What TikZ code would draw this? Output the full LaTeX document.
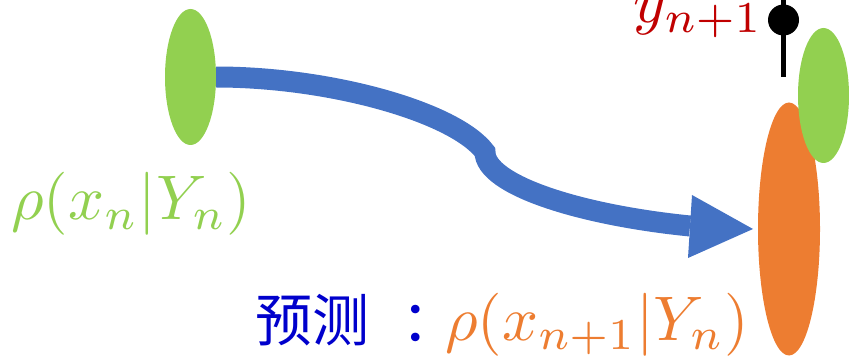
\documentclass[tikz,border=0pt]{standalone}
\usepackage{fontspec}
\usepackage{graphicx}
\newfontfamily\cjk{Noto Sans CJK SC}
\usetikzlibrary{shapes.geometric}
\definecolor{lgreen}{HTML}{92D050}
\definecolor{aorange}{HTML}{ED7D31}
\definecolor{ablue}{HTML}{4472C4}
\definecolor{dred}{HTML}{C00000}
\definecolor{tblue}{HTML}{0000CC}
\tikzset{
  blob/.style={ellipse, inner sep=0pt, draw=none},
  lbl/.style={inner sep=0pt, anchor=base west},
}
\newcommand{\mymath}[1]{\scalebox{6.3}{$#1$}}
\begin{document}
\begin{tikzpicture}[x=1pt,y=-1pt]
\useasboundingbox (0,0) rectangle (849,358);
% left green distribution
\node[blob, fill=lgreen, minimum width=51pt, minimum height=136pt] (gl) at (190.5,77) {};
% orange prediction
\node[blob, fill=aorange, minimum width=62pt, minimum height=253pt] (orng) at (789,229) {};
% right green
\node[blob, fill=lgreen, minimum width=51pt, minimum height=135pt] (gr) at (823.5,95.5) {};
% observation stem
\coordinate (stemtop) at (783.5,0);
\coordinate (stembot) at (783.5,77);
\draw[line width=4.5pt] (stemtop) -- (stembot);
\node[circle, fill=black, minimum size=31pt, inner sep=0pt] (dot) at (783.5,20) {};
% arrow
\coordinate (kink) at (485,152);
\coordinate (base) at (690,226);
\coordinate (tip) at (753,229);
\draw[ablue, line width=21pt] (gl.east) .. controls (330,77) and (455,112) .. (kink)
   .. controls (485,185) and (580,215) .. (base);
\fill[ablue] (692,195) -- (tip) -- (688,258) -- cycle;
% labels
\node[lbl, text=lgreen] (lab1) at (11,220) {\mymath{\rho(x_n|Y_n)}};
\node[lbl, text=tblue, font=\cjk\fontsize{57}{57}\selectfont] (lab3) at (255,341) {预测\hspace{32pt}：\hspace{-22pt}};
\node[lbl, text=aorange] (lab2) at (445,340) {\mymath{\rho(x_{n+1}|Y_n)}};
\node[inner sep=0pt, anchor=base east, text=dred] (ylab) at (763,23) {\mymath{y_{n+1}}};
\end{tikzpicture}
\end{document}
